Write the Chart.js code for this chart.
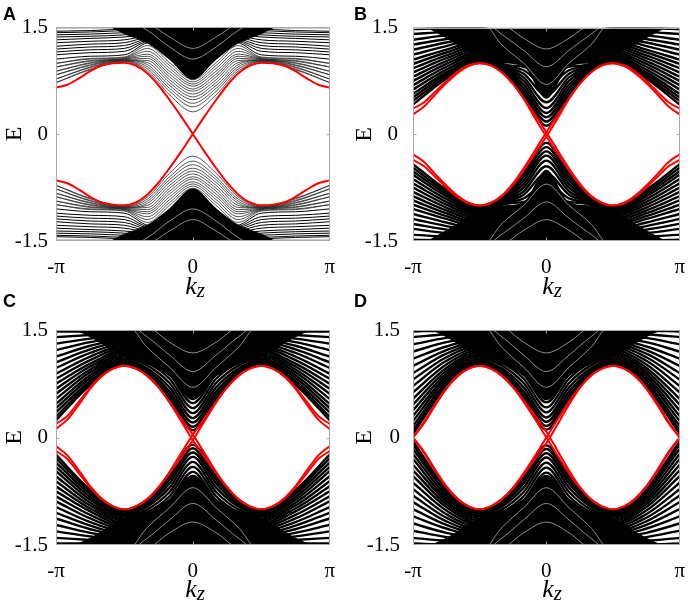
<!DOCTYPE html>
<html>
<head>
<meta charset="utf-8">
<script src="https://cdn.jsdelivr.net/npm/chart.js@4.4.1/dist/chart.umd.min.js"></script>
<style>
body{margin:0;background:#fff;}
#wrap{position:relative;width:699px;height:606px;overflow:hidden;background:#fff;}
canvas{position:absolute;}
.tag{position:absolute;font:bold 18px "Liberation Sans",Arial,sans-serif;line-height:18px;}
.kz{position:absolute;width:100px;text-align:center;font-family:"Liberation Serif","Times New Roman",serif;font-style:italic;font-size:26px;line-height:26px;}
.kz span{font-size:21px;position:relative;top:3px;}
</style>
</head>
<body>
<div id="wrap">
  <canvas id="cA" width="349" height="303" style="left:0;top:0"></canvas>
  <canvas id="cB" width="349" height="303" style="left:350px;top:0"></canvas>
  <canvas id="cC" width="349" height="303" style="left:0;top:303px"></canvas>
  <canvas id="cD" width="349" height="303" style="left:350px;top:303px"></canvas>
  <div class="tag" style="left:3px;top:5px">A</div>
  <div class="tag" style="left:354px;top:5px">B</div>
  <div class="tag" style="left:3px;top:292px">C</div>
  <div class="tag" style="left:354px;top:292px">D</div>
  <div class="kz" style="left:145px;top:273px">k<span>z</span></div>
  <div class="kz" style="left:502px;top:273px">k<span>z</span></div>
  <div class="kz" style="left:145px;top:576px">k<span>z</span></div>
  <div class="kz" style="left:502px;top:576px">k<span>z</span></div>
</div>
<script>
// k_z in units of pi
const K  = [-1,-0.75,-0.5,-0.33,-0.17,0,0.17,0.33,0.5,0.75,1];
const KR = [-1,-0.917,-0.833,-0.75,-0.667,-0.583,-0.5,-0.417,-0.333,-0.25,-0.167,-0.083,0,0.083,0.167,0.25,0.333,0.417,0.5,0.583,0.667,0.75,0.833,0.917,1];
const X_TICKS = [-1,0,1];
const X_LABELS = ['-π','0','π'];
const Y_TICKS = [-1.5,0,1.5];
const Y_LABELS = ['-1.5','0','1.5'];

// ---------- A ----------
const A_RED = [
 [0.65,0.69,0.78,0.88,0.96,0.99,1.00,0.96,0.85,0.68,0.47,0.24,0.00,-0.24,-0.47,-0.68,-0.85,-0.96,-1.00,-0.99,-0.96,-0.88,-0.78,-0.69,-0.65],
 [-0.65,-0.69,-0.78,-0.88,-0.96,-0.99,-1.00,-0.96,-0.85,-0.68,-0.47,-0.24,0.00,0.24,0.47,0.68,0.85,0.96,1.00,0.99,0.96,0.88,0.78,0.69,0.65]
];
const A_UP_U = [
 [0.72,0.90,1.015,0.88,0.55,0.31,0.55,0.88,1.015,0.90,0.72],
 [0.72,0.91,1.02,0.91,0.60,0.38,0.60,0.91,1.02,0.91,0.72],
 [0.77,0.93,1.025,0.94,0.64,0.43,0.64,0.94,1.025,0.93,0.77],
 [0.77,0.94,1.03,0.97,0.68,0.48,0.68,0.97,1.03,0.94,0.77],
 [0.83,0.96,1.035,1.00,0.72,0.52,0.72,1.00,1.035,0.96,0.83],
 [0.83,0.97,1.04,1.03,0.76,0.56,0.76,1.03,1.04,0.97,0.83],
 [0.88,0.99,1.045,1.06,0.80,0.60,0.80,1.06,1.045,0.99,0.88],
 [0.88,1.00,1.05,1.09,0.84,0.63,0.84,1.09,1.05,1.00,0.88],
 [0.94,1.02,1.055,1.12,0.88,0.67,0.88,1.12,1.055,1.02,0.94],
 [0.94,1.03,1.06,1.16,0.92,0.70,0.92,1.16,1.06,1.03,0.94],
 [0.99,1.05,1.07,1.20,0.96,0.73,0.96,1.20,1.07,1.05,0.99],
 [0.99,1.06,1.08,1.24,1.00,0.76,1.00,1.24,1.08,1.06,0.99]
];
const A_DN_U = [
 [-0.72,-0.90,-1.015,-0.88,-0.55,-0.31,-0.55,-0.88,-1.015,-0.90,-0.72],
 [-0.72,-0.91,-1.02,-0.91,-0.60,-0.38,-0.60,-0.91,-1.02,-0.91,-0.72],
 [-0.77,-0.93,-1.025,-0.94,-0.64,-0.43,-0.64,-0.94,-1.025,-0.93,-0.77],
 [-0.77,-0.94,-1.03,-0.97,-0.68,-0.48,-0.68,-0.97,-1.03,-0.94,-0.77],
 [-0.83,-0.96,-1.035,-1.00,-0.72,-0.52,-0.72,-1.00,-1.035,-0.96,-0.83],
 [-0.83,-0.97,-1.04,-1.03,-0.76,-0.56,-0.76,-1.03,-1.04,-0.97,-0.83],
 [-0.88,-0.99,-1.045,-1.06,-0.80,-0.60,-0.80,-1.06,-1.045,-0.99,-0.88],
 [-0.88,-1.00,-1.05,-1.09,-0.84,-0.63,-0.84,-1.09,-1.05,-1.00,-0.88],
 [-0.94,-1.02,-1.055,-1.12,-0.88,-0.67,-0.88,-1.12,-1.055,-1.02,-0.94],
 [-0.94,-1.03,-1.06,-1.16,-0.92,-0.70,-0.92,-1.16,-1.06,-1.03,-0.94],
 [-0.99,-1.05,-1.07,-1.20,-0.96,-0.73,-0.96,-1.20,-1.07,-1.05,-0.99],
 [-0.99,-1.06,-1.08,-1.24,-1.00,-0.76,-1.00,-1.24,-1.08,-1.06,-0.99]
];
const A_UP_T = [
 [1.05,1.09,1.11,1.28,1.30,1.30,1.30,1.28,1.11,1.09,1.05],
 [1.11,1.14,1.16,1.30,1.32,1.32,1.32,1.30,1.16,1.14,1.11],
 [1.15,1.18,1.20,1.32,1.34,1.34,1.34,1.32,1.20,1.18,1.15],
 [1.19,1.22,1.24,1.34,1.36,1.36,1.36,1.34,1.24,1.22,1.19],
 [1.23,1.26,1.28,1.36,1.38,1.38,1.38,1.36,1.28,1.26,1.23],
 [1.28,1.30,1.32,1.38,1.40,1.40,1.40,1.38,1.32,1.30,1.28],
 [1.32,1.34,1.36,1.40,1.42,1.42,1.42,1.40,1.36,1.34,1.32],
 [1.36,1.37,1.39,1.42,1.44,1.44,1.44,1.42,1.39,1.37,1.36],
 [1.39,1.40,1.42,1.44,1.46,1.46,1.46,1.44,1.42,1.40,1.39],
 [1.42,1.43,1.45,1.46,1.47,1.47,1.47,1.46,1.45,1.43,1.42],
 [1.44,1.45,1.47,1.48,1.48,1.48,1.48,1.48,1.47,1.45,1.44],
 [1.49,1.49,1.49,1.49,1.49,1.49,1.49,1.49,1.49,1.49,1.49]
];
const A_DN_T = [
 [-1.05,-1.09,-1.11,-1.28,-1.30,-1.30,-1.30,-1.28,-1.11,-1.09,-1.05],
 [-1.11,-1.14,-1.16,-1.30,-1.32,-1.32,-1.32,-1.30,-1.16,-1.14,-1.11],
 [-1.15,-1.18,-1.20,-1.32,-1.34,-1.34,-1.34,-1.32,-1.20,-1.18,-1.15],
 [-1.19,-1.22,-1.24,-1.34,-1.36,-1.36,-1.36,-1.34,-1.24,-1.22,-1.19],
 [-1.23,-1.26,-1.28,-1.36,-1.38,-1.38,-1.38,-1.36,-1.28,-1.26,-1.23],
 [-1.28,-1.30,-1.32,-1.38,-1.40,-1.40,-1.40,-1.38,-1.32,-1.30,-1.28],
 [-1.32,-1.34,-1.36,-1.40,-1.42,-1.42,-1.42,-1.40,-1.36,-1.34,-1.32],
 [-1.36,-1.37,-1.39,-1.42,-1.44,-1.44,-1.44,-1.42,-1.39,-1.37,-1.36],
 [-1.39,-1.40,-1.42,-1.44,-1.46,-1.46,-1.46,-1.44,-1.42,-1.40,-1.39],
 [-1.42,-1.43,-1.45,-1.46,-1.47,-1.47,-1.47,-1.46,-1.45,-1.43,-1.42],
 [-1.44,-1.45,-1.47,-1.48,-1.48,-1.48,-1.48,-1.48,-1.47,-1.45,-1.44],
 [-1.49,-1.49,-1.49,-1.49,-1.49,-1.49,-1.49,-1.49,-1.49,-1.49,-1.49]
];
const A_UP_FILL = [1.6,1.6,1.40,1.27,1.04,0.76,1.04,1.27,1.40,1.6,1.6];
const A_DN_FILL = [-1.6,-1.6,-1.40,-1.27,-1.04,-0.76,-1.04,-1.27,-1.40,-1.6,-1.6];
const A_WHITE = [
 [1.6,1.6,1.6,1.45,1.22,1.05,1.22,1.45,1.6,1.6,1.6],
 [1.6,1.6,1.6,1.55,1.36,1.20,1.36,1.55,1.6,1.6,1.6],
 [-1.6,-1.6,-1.6,-1.45,-1.22,-1.05,-1.22,-1.45,-1.6,-1.6,-1.6],
 [-1.6,-1.6,-1.6,-1.55,-1.36,-1.20,-1.36,-1.55,-1.6,-1.6,-1.6]
];

// ---------- B ----------
const B_RED = [
 [0.36,0.45,0.60,0.75,0.88,0.97,1.00,0.97,0.87,0.71,0.50,0.27,0.03,-0.22,-0.47,-0.69,-0.86,-0.96,-1.00,-0.97,-0.88,-0.75,-0.60,-0.45,-0.36],
 [0.28,0.39,0.56,0.72,0.86,0.96,1.00,0.97,0.87,0.71,0.49,0.22,-0.03,-0.27,-0.50,-0.71,-0.87,-0.97,-1.00,-0.96,-0.86,-0.72,-0.56,-0.39,-0.28],
 [-0.36,-0.45,-0.60,-0.75,-0.88,-0.97,-1.00,-0.96,-0.86,-0.69,-0.47,-0.22,0.03,0.27,0.50,0.71,0.87,0.97,1.00,0.97,0.88,0.75,0.60,0.45,0.36],
 [-0.28,-0.39,-0.56,-0.72,-0.86,-0.96,-1.00,-0.97,-0.87,-0.71,-0.50,-0.27,-0.03,0.22,0.49,0.71,0.87,0.97,1.00,0.96,0.86,0.72,0.56,0.39,0.28]
];
const B_UP = [
 [0.42,0.78,1.02,0.89,0.55,0.12,0.55,0.89,1.02,0.78,0.42],
 [0.47,0.81,1.04,0.91,0.60,0.18,0.60,0.91,1.04,0.81,0.47],
 [0.52,0.84,1.06,0.93,0.65,0.24,0.65,0.93,1.06,0.84,0.52],
 [0.57,0.87,1.08,0.94,0.70,0.30,0.70,0.94,1.08,0.87,0.57],
 [0.63,0.91,1.10,0.95,0.75,0.37,0.75,0.95,1.10,0.91,0.63],
 [0.69,0.95,1.13,0.96,0.80,0.45,0.80,0.96,1.13,0.95,0.69],
 [0.75,0.99,1.16,0.97,0.85,0.55,0.85,0.97,1.16,0.99,0.75],
 [0.81,1.03,1.19,0.98,0.90,0.68,0.90,0.98,1.19,1.03,0.81],
 [0.87,1.07,1.22,0.99,0.95,0.85,0.95,0.99,1.22,1.07,0.87],
 [0.93,1.11,1.25,1.05,1.05,1.05,1.05,1.05,1.25,1.11,0.93],
 [0.99,1.15,1.28,1.10,1.10,1.10,1.10,1.10,1.28,1.15,0.99],
 [1.05,1.19,1.31,1.15,1.15,1.15,1.15,1.15,1.31,1.19,1.05],
 [1.12,1.24,1.34,1.20,1.20,1.20,1.20,1.20,1.34,1.24,1.12],
 [1.19,1.29,1.37,1.25,1.25,1.25,1.25,1.25,1.37,1.29,1.19],
 [1.26,1.34,1.40,1.30,1.30,1.30,1.30,1.30,1.40,1.34,1.26],
 [1.33,1.39,1.43,1.35,1.35,1.35,1.35,1.35,1.43,1.39,1.33],
 [1.41,1.44,1.46,1.40,1.40,1.40,1.40,1.40,1.46,1.44,1.41],
 [1.48,1.49,1.49,1.45,1.45,1.45,1.45,1.45,1.49,1.49,1.48]
];
const B_DN = [
 [-0.42,-0.78,-1.02,-0.89,-0.55,-0.12,-0.55,-0.89,-1.02,-0.78,-0.42],
 [-0.47,-0.81,-1.04,-0.91,-0.60,-0.18,-0.60,-0.91,-1.04,-0.81,-0.47],
 [-0.52,-0.84,-1.06,-0.93,-0.65,-0.24,-0.65,-0.93,-1.06,-0.84,-0.52],
 [-0.57,-0.87,-1.08,-0.94,-0.70,-0.30,-0.70,-0.94,-1.08,-0.87,-0.57],
 [-0.63,-0.91,-1.10,-0.95,-0.75,-0.37,-0.75,-0.95,-1.10,-0.91,-0.63],
 [-0.69,-0.95,-1.13,-0.96,-0.80,-0.45,-0.80,-0.96,-1.13,-0.95,-0.69],
 [-0.75,-0.99,-1.16,-0.97,-0.85,-0.55,-0.85,-0.97,-1.16,-0.99,-0.75],
 [-0.81,-1.03,-1.19,-0.98,-0.90,-0.68,-0.90,-0.98,-1.19,-1.03,-0.81],
 [-0.87,-1.07,-1.22,-0.99,-0.95,-0.85,-0.95,-0.99,-1.22,-1.07,-0.87],
 [-0.93,-1.11,-1.25,-1.05,-1.05,-1.05,-1.05,-1.05,-1.25,-1.11,-0.93],
 [-0.99,-1.15,-1.28,-1.10,-1.10,-1.10,-1.10,-1.10,-1.28,-1.15,-0.99],
 [-1.05,-1.19,-1.31,-1.15,-1.15,-1.15,-1.15,-1.15,-1.31,-1.19,-1.05],
 [-1.12,-1.24,-1.34,-1.20,-1.20,-1.20,-1.20,-1.20,-1.34,-1.24,-1.12],
 [-1.19,-1.29,-1.37,-1.25,-1.25,-1.25,-1.25,-1.25,-1.37,-1.29,-1.19],
 [-1.26,-1.34,-1.40,-1.30,-1.30,-1.30,-1.30,-1.30,-1.40,-1.34,-1.26],
 [-1.33,-1.39,-1.43,-1.35,-1.35,-1.35,-1.35,-1.35,-1.43,-1.39,-1.33],
 [-1.41,-1.44,-1.46,-1.40,-1.40,-1.40,-1.40,-1.40,-1.46,-1.44,-1.41],
 [-1.48,-1.49,-1.49,-1.45,-1.45,-1.45,-1.45,-1.45,-1.49,-1.49,-1.48]
];
const B_UP_FILL = [1.6,1.35,1.08,1.00,0.95,0.50,0.95,1.00,1.08,1.35,1.6];
const B_DN_FILL = [-1.6,-1.35,-1.08,-1.00,-0.95,-0.50,-0.95,-1.00,-1.08,-1.35,-1.6];
const B_WHITE = [
 [1.6,1.6,1.6,1.25,1.00,0.70,1.00,1.25,1.6,1.6,1.6],
 [1.6,1.6,1.6,1.40,1.18,0.95,1.18,1.40,1.6,1.6,1.6],
 [1.6,1.6,1.6,1.55,1.35,1.20,1.35,1.55,1.6,1.6,1.6],
 [-1.6,-1.6,-1.6,-1.25,-1.00,-0.70,-1.00,-1.25,-1.6,-1.6,-1.6],
 [-1.6,-1.6,-1.6,-1.40,-1.18,-0.95,-1.18,-1.40,-1.6,-1.6,-1.6],
 [-1.6,-1.6,-1.6,-1.55,-1.35,-1.20,-1.35,-1.55,-1.6,-1.6,-1.6]
];

// ---------- C ----------
const C_RED = [
 [0.19,0.30,0.50,0.70,0.86,0.96,1.00,0.96,0.86,0.70,0.49,0.26,0.04,-0.21,-0.47,-0.69,-0.86,-0.96,-1.00,-0.96,-0.86,-0.70,-0.50,-0.30,-0.19],
 [0.12,0.25,0.46,0.68,0.85,0.96,1.00,0.96,0.86,0.70,0.48,0.22,-0.04,-0.27,-0.49,-0.70,-0.86,-0.96,-1.00,-0.96,-0.85,-0.68,-0.46,-0.25,-0.12],
 [-0.19,-0.30,-0.50,-0.70,-0.86,-0.96,-1.00,-0.96,-0.86,-0.69,-0.47,-0.21,0.04,0.26,0.49,0.70,0.86,0.96,1.00,0.96,0.86,0.70,0.50,0.30,0.19],
 [-0.12,-0.25,-0.46,-0.68,-0.85,-0.96,-1.00,-0.96,-0.86,-0.70,-0.49,-0.27,-0.04,0.22,0.48,0.70,0.86,0.96,1.00,0.96,0.85,0.68,0.46,0.25,0.12]
];
const C_UP = [
 [0.24,0.73,1.02,0.88,0.54,0.10,0.54,0.88,1.02,0.73,0.24],
 [0.29,0.76,1.04,0.90,0.59,0.15,0.59,0.90,1.04,0.76,0.29],
 [0.35,0.79,1.06,0.93,0.64,0.21,0.64,0.93,1.06,0.79,0.35],
 [0.41,0.83,1.08,0.96,0.70,0.27,0.70,0.96,1.08,0.83,0.41],
 [0.47,0.87,1.10,1.00,0.76,0.34,0.76,1.00,1.10,0.87,0.47],
 [0.54,0.91,1.13,1.04,0.82,0.41,0.82,1.04,1.13,0.91,0.54],
 [0.61,0.95,1.16,1.08,0.88,0.48,0.88,1.08,1.16,0.95,0.61],
 [0.68,0.99,1.19,1.12,0.94,0.56,0.94,1.12,1.19,0.99,0.68],
 [0.75,1.03,1.22,1.16,1.00,0.64,1.00,1.16,1.22,1.03,0.75],
 [0.82,1.08,1.25,1.20,1.06,0.72,1.06,1.20,1.25,1.08,0.82],
 [0.89,1.13,1.28,1.24,1.12,0.80,1.12,1.24,1.28,1.13,0.89],
 [0.97,1.18,1.31,1.28,1.18,0.88,1.18,1.28,1.31,1.18,0.97],
 [1.05,1.23,1.34,1.32,1.24,0.96,1.24,1.32,1.34,1.23,1.05],
 [1.13,1.28,1.37,1.36,1.30,1.04,1.30,1.36,1.37,1.28,1.13],
 [1.22,1.33,1.40,1.40,1.36,1.12,1.36,1.40,1.40,1.33,1.22],
 [1.31,1.38,1.43,1.44,1.42,1.22,1.42,1.44,1.43,1.38,1.31],
 [1.40,1.43,1.46,1.47,1.46,1.32,1.46,1.47,1.46,1.43,1.40],
 [1.48,1.48,1.49,1.50,1.50,1.42,1.50,1.50,1.49,1.48,1.48]
];
const C_DN = [
 [-0.24,-0.73,-1.02,-0.88,-0.54,-0.10,-0.54,-0.88,-1.02,-0.73,-0.24],
 [-0.29,-0.76,-1.04,-0.90,-0.59,-0.15,-0.59,-0.90,-1.04,-0.76,-0.29],
 [-0.35,-0.79,-1.06,-0.93,-0.64,-0.21,-0.64,-0.93,-1.06,-0.79,-0.35],
 [-0.41,-0.83,-1.08,-0.96,-0.70,-0.27,-0.70,-0.96,-1.08,-0.83,-0.41],
 [-0.47,-0.87,-1.10,-1.00,-0.76,-0.34,-0.76,-1.00,-1.10,-0.87,-0.47],
 [-0.54,-0.91,-1.13,-1.04,-0.82,-0.41,-0.82,-1.04,-1.13,-0.91,-0.54],
 [-0.61,-0.95,-1.16,-1.08,-0.88,-0.48,-0.88,-1.08,-1.16,-0.95,-0.61],
 [-0.68,-0.99,-1.19,-1.12,-0.94,-0.56,-0.94,-1.12,-1.19,-0.99,-0.68],
 [-0.75,-1.03,-1.22,-1.16,-1.00,-0.64,-1.00,-1.16,-1.22,-1.03,-0.75],
 [-0.82,-1.08,-1.25,-1.20,-1.06,-0.72,-1.06,-1.20,-1.25,-1.08,-0.82],
 [-0.89,-1.13,-1.28,-1.24,-1.12,-0.80,-1.12,-1.24,-1.28,-1.13,-0.89],
 [-0.97,-1.18,-1.31,-1.28,-1.18,-0.88,-1.18,-1.28,-1.31,-1.18,-0.97],
 [-1.05,-1.23,-1.34,-1.32,-1.24,-0.96,-1.24,-1.32,-1.34,-1.23,-1.05],
 [-1.13,-1.28,-1.37,-1.36,-1.30,-1.04,-1.30,-1.36,-1.37,-1.28,-1.13],
 [-1.22,-1.33,-1.40,-1.40,-1.36,-1.12,-1.36,-1.40,-1.40,-1.33,-1.22],
 [-1.31,-1.38,-1.43,-1.44,-1.42,-1.22,-1.42,-1.44,-1.43,-1.38,-1.31],
 [-1.40,-1.43,-1.46,-1.47,-1.46,-1.32,-1.46,-1.47,-1.46,-1.43,-1.40],
 [-1.48,-1.48,-1.49,-1.50,-1.50,-1.42,-1.50,-1.50,-1.49,-1.48,-1.48]
];
const C_UP_FILL = [1.6,1.40,1.12,1.02,0.85,0.52,0.85,1.02,1.12,1.40,1.6];
const C_DN_FILL = [-1.6,-1.40,-1.12,-1.02,-0.85,-0.52,-0.85,-1.02,-1.12,-1.40,-1.6];
const C_WHITE = [
 [1.6,1.6,1.6,1.25,0.98,0.70,0.98,1.25,1.6,1.6,1.6],
 [1.6,1.6,1.6,1.40,1.15,0.92,1.15,1.40,1.6,1.6,1.6],
 [1.6,1.6,1.6,1.55,1.33,1.18,1.33,1.55,1.6,1.6,1.6],
 [-1.6,-1.6,-1.6,-1.25,-0.98,-0.70,-0.98,-1.25,-1.6,-1.6,-1.6],
 [-1.6,-1.6,-1.6,-1.40,-1.15,-0.92,-1.15,-1.40,-1.6,-1.6,-1.6],
 [-1.6,-1.6,-1.6,-1.55,-1.33,-1.18,-1.33,-1.55,-1.6,-1.6,-1.6]
];

// ---------- D ----------
const D_RED = [
 [0.00,0.20,0.45,0.68,0.85,0.96,1.00,0.96,0.86,0.70,0.49,0.25,0.00,-0.25,-0.49,-0.70,-0.86,-0.96,-1.00,-0.96,-0.85,-0.68,-0.45,-0.20,0.00],
 [0.00,0.22,0.47,0.69,0.86,0.96,1.00,0.96,0.86,0.71,0.51,0.30,0.08,-0.18,-0.45,-0.69,-0.86,-0.96,-1.00,-0.96,-0.86,-0.69,-0.47,-0.22,0.00],
 [0.00,-0.20,-0.45,-0.68,-0.85,-0.96,-1.00,-0.96,-0.86,-0.70,-0.49,-0.25,0.00,0.25,0.49,0.70,0.86,0.96,1.00,0.96,0.85,0.68,0.45,0.20,0.00],
 [0.00,-0.22,-0.47,-0.69,-0.86,-0.96,-1.00,-0.96,-0.86,-0.71,-0.51,-0.30,-0.08,0.18,0.45,0.69,0.86,0.96,1.00,0.96,0.86,0.69,0.47,0.22,0.00]
];
const D_UP = [
 [0.05,0.71,1.02,0.88,0.54,0.11,0.54,0.88,1.02,0.71,0.05],
 [0.10,0.74,1.04,0.90,0.59,0.16,0.59,0.90,1.04,0.74,0.10],
 [0.16,0.77,1.06,0.93,0.64,0.22,0.64,0.93,1.06,0.77,0.16],
 [0.23,0.81,1.08,0.96,0.70,0.28,0.70,0.96,1.08,0.81,0.23],
 [0.30,0.85,1.10,1.00,0.76,0.35,0.76,1.00,1.10,0.85,0.30],
 [0.38,0.89,1.13,1.04,0.82,0.42,0.82,1.04,1.13,0.89,0.38],
 [0.46,0.93,1.16,1.08,0.88,0.49,0.88,1.08,1.16,0.93,0.46],
 [0.54,0.97,1.19,1.12,0.94,0.57,0.94,1.12,1.19,0.97,0.54],
 [0.63,1.02,1.22,1.16,1.00,0.65,1.00,1.16,1.22,1.02,0.63],
 [0.72,1.07,1.25,1.20,1.06,0.73,1.06,1.20,1.25,1.07,0.72],
 [0.81,1.12,1.28,1.24,1.12,0.81,1.12,1.24,1.28,1.12,0.81],
 [0.90,1.17,1.31,1.28,1.18,0.89,1.18,1.28,1.31,1.17,0.90],
 [1.00,1.22,1.34,1.32,1.24,0.97,1.24,1.32,1.34,1.22,1.00],
 [1.10,1.27,1.37,1.36,1.30,1.05,1.30,1.36,1.37,1.27,1.10],
 [1.20,1.33,1.40,1.40,1.36,1.13,1.36,1.40,1.40,1.33,1.20],
 [1.30,1.39,1.43,1.44,1.42,1.23,1.42,1.44,1.43,1.39,1.30],
 [1.40,1.44,1.46,1.47,1.46,1.33,1.46,1.47,1.46,1.44,1.40],
 [1.48,1.49,1.49,1.50,1.50,1.43,1.50,1.50,1.49,1.49,1.48]
];
const D_DN = [
 [-0.05,-0.71,-1.02,-0.88,-0.54,-0.11,-0.54,-0.88,-1.02,-0.71,-0.05],
 [-0.10,-0.74,-1.04,-0.90,-0.59,-0.16,-0.59,-0.90,-1.04,-0.74,-0.10],
 [-0.16,-0.77,-1.06,-0.93,-0.64,-0.22,-0.64,-0.93,-1.06,-0.77,-0.16],
 [-0.23,-0.81,-1.08,-0.96,-0.70,-0.28,-0.70,-0.96,-1.08,-0.81,-0.23],
 [-0.30,-0.85,-1.10,-1.00,-0.76,-0.35,-0.76,-1.00,-1.10,-0.85,-0.30],
 [-0.38,-0.89,-1.13,-1.04,-0.82,-0.42,-0.82,-1.04,-1.13,-0.89,-0.38],
 [-0.46,-0.93,-1.16,-1.08,-0.88,-0.49,-0.88,-1.08,-1.16,-0.93,-0.46],
 [-0.54,-0.97,-1.19,-1.12,-0.94,-0.57,-0.94,-1.12,-1.19,-0.97,-0.54],
 [-0.63,-1.02,-1.22,-1.16,-1.00,-0.65,-1.00,-1.16,-1.22,-1.02,-0.63],
 [-0.72,-1.07,-1.25,-1.20,-1.06,-0.73,-1.06,-1.20,-1.25,-1.07,-0.72],
 [-0.81,-1.12,-1.28,-1.24,-1.12,-0.81,-1.12,-1.24,-1.28,-1.12,-0.81],
 [-0.90,-1.17,-1.31,-1.28,-1.18,-0.89,-1.18,-1.28,-1.31,-1.17,-0.90],
 [-1.00,-1.22,-1.34,-1.32,-1.24,-0.97,-1.24,-1.32,-1.34,-1.22,-1.00],
 [-1.10,-1.27,-1.37,-1.36,-1.30,-1.05,-1.30,-1.36,-1.37,-1.27,-1.10],
 [-1.20,-1.33,-1.40,-1.40,-1.36,-1.13,-1.36,-1.40,-1.40,-1.33,-1.20],
 [-1.30,-1.39,-1.43,-1.44,-1.42,-1.23,-1.42,-1.44,-1.43,-1.39,-1.30],
 [-1.40,-1.44,-1.46,-1.47,-1.46,-1.33,-1.46,-1.47,-1.46,-1.44,-1.40],
 [-1.48,-1.49,-1.49,-1.50,-1.50,-1.43,-1.50,-1.50,-1.49,-1.49,-1.48]
];
const D_UP_FILL = [1.6,1.40,1.12,1.02,0.85,0.52,0.85,1.02,1.12,1.40,1.6];
const D_DN_FILL = [-1.6,-1.40,-1.12,-1.02,-0.85,-0.52,-0.85,-1.02,-1.12,-1.40,-1.6];
const D_WHITE = C_WHITE;

const SERIF = '"Liberation Serif","Times New Roman",serif';

function pts(xs, ys){ return xs.map((x,i)=>({x:x, y:ys[i]})); }

function lineSets(xs, rows, color, width, order){
  return rows.map(r=>({data:pts(xs,r), borderColor:color, borderWidth:width, pointRadius:0,
    fill:false, cubicInterpolationMode:'monotone', clip:0, order:order}));
}
function fillSet(row, target){
  return {data:pts(K,row), borderWidth:0, borderColor:'rgba(0,0,0,0)', backgroundColor:'#000',
    pointRadius:0, fill:target, cubicInterpolationMode:'monotone', clip:0, order:4};
}

// frame with inward ticks (matlab look)
const frame = {
  id:'frame',
  afterDraw(c){
    const a=c.chartArea, g=c.ctx;
    g.save();
    g.strokeStyle='#a8a8a8'; g.lineWidth=1;
    const l=Math.round(a.left)+0.5, t=Math.round(a.top)+0.5, r=Math.round(a.right)-0.5, b=Math.round(a.bottom)-0.5;
    g.strokeRect(l,t,r-l,b-t);
    const x0=Math.round(c.scales.x.getPixelForValue(0))+0.5;
    const y0=Math.round(c.scales.y.getPixelForValue(0))+0.5;
    g.beginPath();
    g.moveTo(x0,b); g.lineTo(x0,b-3); g.moveTo(x0,t); g.lineTo(x0,t+3);
    g.moveTo(l,y0); g.lineTo(l+3,y0); g.moveTo(r,y0); g.lineTo(r-3,y0);
    g.stroke();
    g.restore();
  }
};

const PANELS = [
  {id:'cA', red:A_RED, bands:[[A_UP_T,'#000',1],[A_DN_T,'#000',1],[A_UP_U,'#2a2a2a',0.8],[A_DN_U,'#2a2a2a',0.8]],
   fills:[A_UP_FILL,A_DN_FILL], white:A_WHITE, left:56, right:16, top:27, bottom:62, tickPad:8},
  {id:'cB', red:B_RED, bands:[[B_UP,'#000',2.4],[B_DN,'#000',2.4]],
   fills:[B_UP_FILL,B_DN_FILL], white:B_WHITE, left:63, right:9, top:27, bottom:62, tickPad:15},
  {id:'cC', red:C_RED, bands:[[C_UP,'#000',2.4],[C_DN,'#000',2.4]],
   fills:[C_UP_FILL,C_DN_FILL], white:C_WHITE, left:56, right:16, top:27, bottom:61, tickPad:8},
  {id:'cD', red:D_RED, bands:[[D_UP,'#000',2.4],[D_DN,'#000',2.4]],
   fills:[D_UP_FILL,D_DN_FILL], white:D_WHITE, left:63, right:9, top:27, bottom:61, tickPad:13}
];

PANELS.forEach(p=>{
  let ds=[];
  ds=ds.concat(lineSets(KR,p.red,'#ff0000',2,0));
  ds=ds.concat(lineSets(K,p.white,'rgba(255,255,255,0.55)',1,1));
  p.bands.forEach(b=>{ ds=ds.concat(lineSets(K,b[0],b[1],b[2],2)); });
  ds.push(fillSet(p.fills[0],'end'));
  ds.push(fillSet(p.fills[1],'start'));

  new Chart(document.getElementById(p.id),{
    type:'line',
    data:{datasets:ds},
    options:{
      responsive:false, animation:false, devicePixelRatio:1,
      layout:{padding:{left:0,right:p.right,top:p.top,bottom:0}},
      plugins:{legend:{display:false},tooltip:{enabled:false}},
      scales:{
        x:{type:'linear',min:-1,max:1,
           afterBuildTicks:s=>{s.ticks=X_TICKS.map(v=>({value:v}));},
           afterFit:s=>{s.height=p.bottom;},
           ticks:{callback:v=>X_LABELS[X_TICKS.indexOf(v)],color:'#000',padding:14,
                  maxRotation:0,autoSkip:false,font:{family:SERIF,size:21}},
           grid:{display:false,drawTicks:false},border:{display:false}},
        y:{type:'linear',min:-1.5,max:1.5,
           afterBuildTicks:s=>{s.ticks=Y_TICKS.map(v=>({value:v}));},
           afterFit:s=>{s.width=p.left;},
           ticks:{callback:v=>Y_LABELS[Y_TICKS.indexOf(v)],color:'#000',padding:p.tickPad,
                  autoSkip:false,font:{family:SERIF,size:21}},
           title:{display:true,text:'E',color:'#000',padding:{top:0,bottom:0},font:{family:SERIF,size:24}},
           grid:{display:false,drawTicks:false},border:{display:false}}
      }
    },
    plugins:[frame]
  });
});
</script>
</body>
</html>
